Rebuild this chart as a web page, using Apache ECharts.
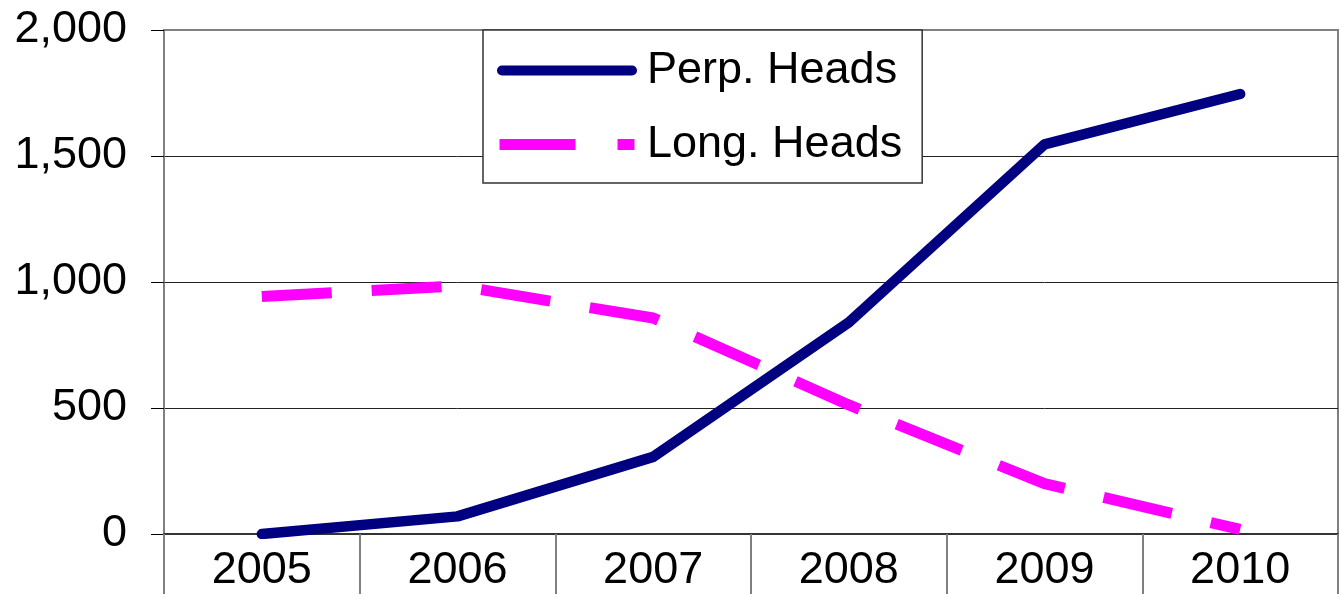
<!DOCTYPE html>
<html>
<head>
<meta charset="utf-8">
<script src="https://cdn.jsdelivr.net/npm/echarts@6/dist/echarts.min.js"></script>
<style>
  html, body { margin: 0; padding: 0; background: #fff; }
  #main { width: 1342px; height: 594px; }
</style>
</head>
<body>
<div id="main"></div>
<script>
// data
var years = ['2005', '2006', '2007', '2008', '2009', '2010'];
var perpHeads = [0, 70, 306, 840, 1546, 1746];
var longHeads = [942, 985, 857, 512, 200, 18];
var yTicks = [0, 500, 1000, 1500, 2000];

var FONT = '"Liberation Sans", Arial, sans-serif';

// legend keys drawn as paths: a solid rounded bar, and a long dash + short dash
var ICON_SOLID = 'path://M5,0 L135,0 A5,5 0 0 1 135,10 L5,10 A5,5 0 0 1 5,0 Z';
var ICON_DASH = 'path://M0,0 L76,0 L76,11 L0,11 Z M118,0 L135,0 L135,11 L118,11 Z';

var chart = echarts.init(document.getElementById('main'));
var option = {
    animation: false,
    backgroundColor: '#fff',
    grid: {
        left: 164,
        right: 4,
        top: 30,
        bottom: 60,
        show: true,
        borderColor: '#808080',
        borderWidth: 2
    },
    legend: {
        orient: 'vertical',
        left: 483,
        top: 30,
        padding: [18, 20, 16, 14],
        backgroundColor: '#fff',
        borderColor: '#333',
        borderWidth: 1.5,
        itemWidth: 140,
        itemHeight: 11,
        itemGap: 29,
        textStyle: {
            fontFamily: FONT,
            fontSize: 45,
            lineHeight: 44,
            color: '#000',
            padding: [0, 0, 0, 5]
        },
        data: [
            { name: 'Perp. Heads', icon: ICON_SOLID },
            { name: 'Long. Heads', icon: ICON_DASH }
        ]
    },
    xAxis: {
        type: 'category',
        data: years,
        boundaryGap: true,
        axisLine: {
            lineStyle: { color: '#333', width: 2 }
        },
        axisTick: {
            show: true,
            length: 60,
            lineStyle: { color: '#808080', width: 2 }
        },
        axisLabel: {
            margin: 14,
            fontFamily: FONT,
            fontSize: 45,
            color: '#000'
        },
        splitLine: { show: false }
    },
    yAxis: {
        type: 'value',
        min: yTicks[0],
        max: yTicks[yTicks.length - 1],
        interval: 500,
        axisLine: {
            show: true,
            lineStyle: { color: '#808080', width: 2 }
        },
        axisTick: {
            show: true,
            length: 13,
            lineStyle: { color: '#000', width: 1 }
        },
        axisLabel: {
            margin: 37,
            fontFamily: FONT,
            fontSize: 45,
            color: '#000',
            formatter: function (v) {
                return v.toLocaleString('en-US');
            }
        },
        splitLine: {
            show: true,
            lineStyle: { color: ['#222', '#222', '#222', '#222', '#808080'], width: 1 }
        }
    },
    series: [
        {
            name: 'Long. Heads',
            type: 'line',
            data: longHeads,
            symbol: 'none',
            lineStyle: {
                color: '#ff00ff',
                width: 11,
                type: [70, 40],
                cap: 'butt',
                join: 'bevel'
            },
            itemStyle: { color: '#ff00ff' }
        },
        {
            name: 'Perp. Heads',
            type: 'line',
            data: perpHeads,
            symbol: 'none',
            lineStyle: {
                color: '#000080',
                width: 10.5,
                cap: 'round',
                join: 'round'
            },
            itemStyle: { color: '#000080' }
        }
    ]
};
chart.setOption(option);
</script>
</body>
</html>
